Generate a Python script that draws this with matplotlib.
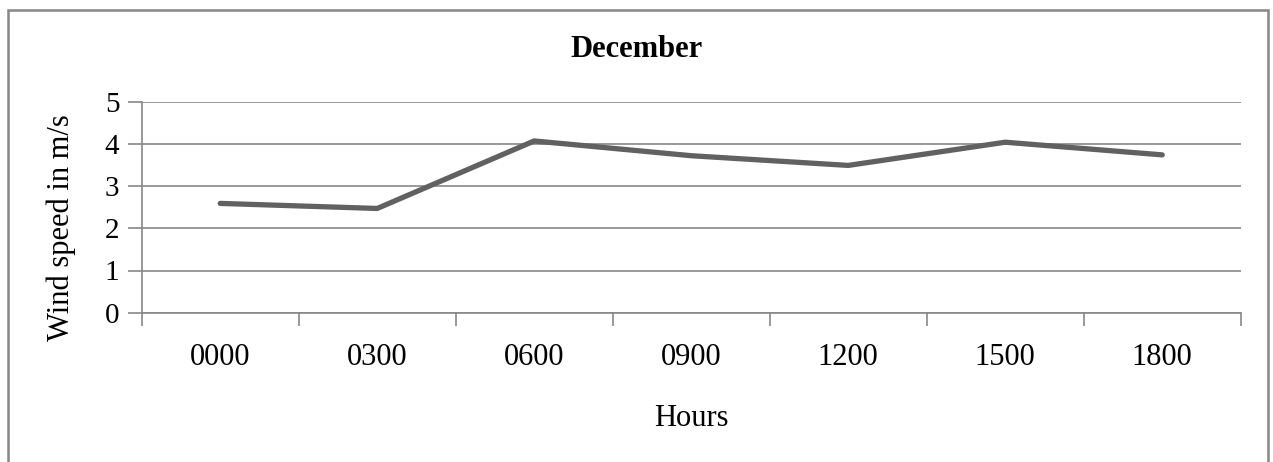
import matplotlib.pyplot as plt
from matplotlib.patches import Rectangle
from matplotlib.ticker import FixedLocator

# Среднечасовая скорость ветра за декабрь
hours = ['0000', '0300', '0600', '0900', '1200', '1500', '1800']
wind_speed = [2.59, 2.47, 4.07, 3.72, 3.49, 4.04, 3.74]

plt.rcParams['font.family'] = ['Liberation Serif', 'DejaVu Serif']

W, H = 1273, 462
fig = plt.figure(figsize=(W / 100, H / 100), dpi=100)
ax = fig.add_axes([141.7 / W, 1 - 312.7 / H, (1240.7 - 141.7) / W, (312.7 - 101.7) / H])

grey = '#878787'

x = [i + 0.5 for i in range(len(hours))]
ax.plot(x, wind_speed, color='#616161', linewidth=3.8, solid_capstyle='round',
		solid_joinstyle='miter', zorder=3)

ax.set_xlim(0, len(hours))
ax.set_ylim(0, 5)

# деления оси X между категориями, подписи по центру
ax.xaxis.set_major_locator(FixedLocator(range(len(hours) + 1)))
ax.xaxis.set_minor_locator(FixedLocator(x))
ax.set_xticklabels([], minor=False)
ax.set_xticklabels(hours, minor=True)
ax.tick_params(axis='x', which='major', length=9, width=1.2, color=grey, direction='out')
ax.tick_params(axis='x', which='minor', length=0, labelsize=22, pad=22)

ax.set_yticks(range(0, 6))
ax.tick_params(axis='y', length=10, width=1.2, color=grey, direction='out', labelsize=21, pad=6)
ax.yaxis.grid(True, color=grey, linewidth=1.2)
ax.set_axisbelow(True)

for side in ['top', 'right']:
	ax.spines[side].set_visible(False)
for side in ['left', 'bottom']:
	ax.spines[side].set_color(grey)
	ax.spines[side].set_linewidth(1.2)

fig.text(637 / W, 1 - 49.5 / H, 'December', ha='center', va='center',
		fontsize=22, fontweight='bold')
fig.text(691 / W, 1 - 418 / H, 'Hours', ha='center', va='center', fontsize=22)
fig.text(61 / W, 1 - 228 / H, 'Wind speed in m/s', ha='center', va='center',
		rotation=90, fontsize=22)

# рамка области диаграммы
fig.patches.append(Rectangle((8 / W, -0.1), (1268 - 8) / W, 1.1 - 10 / H,
		transform=fig.transFigure, fill=False, edgecolor=grey, linewidth=1.8))

fig.savefig('out.png', dpi=100)
